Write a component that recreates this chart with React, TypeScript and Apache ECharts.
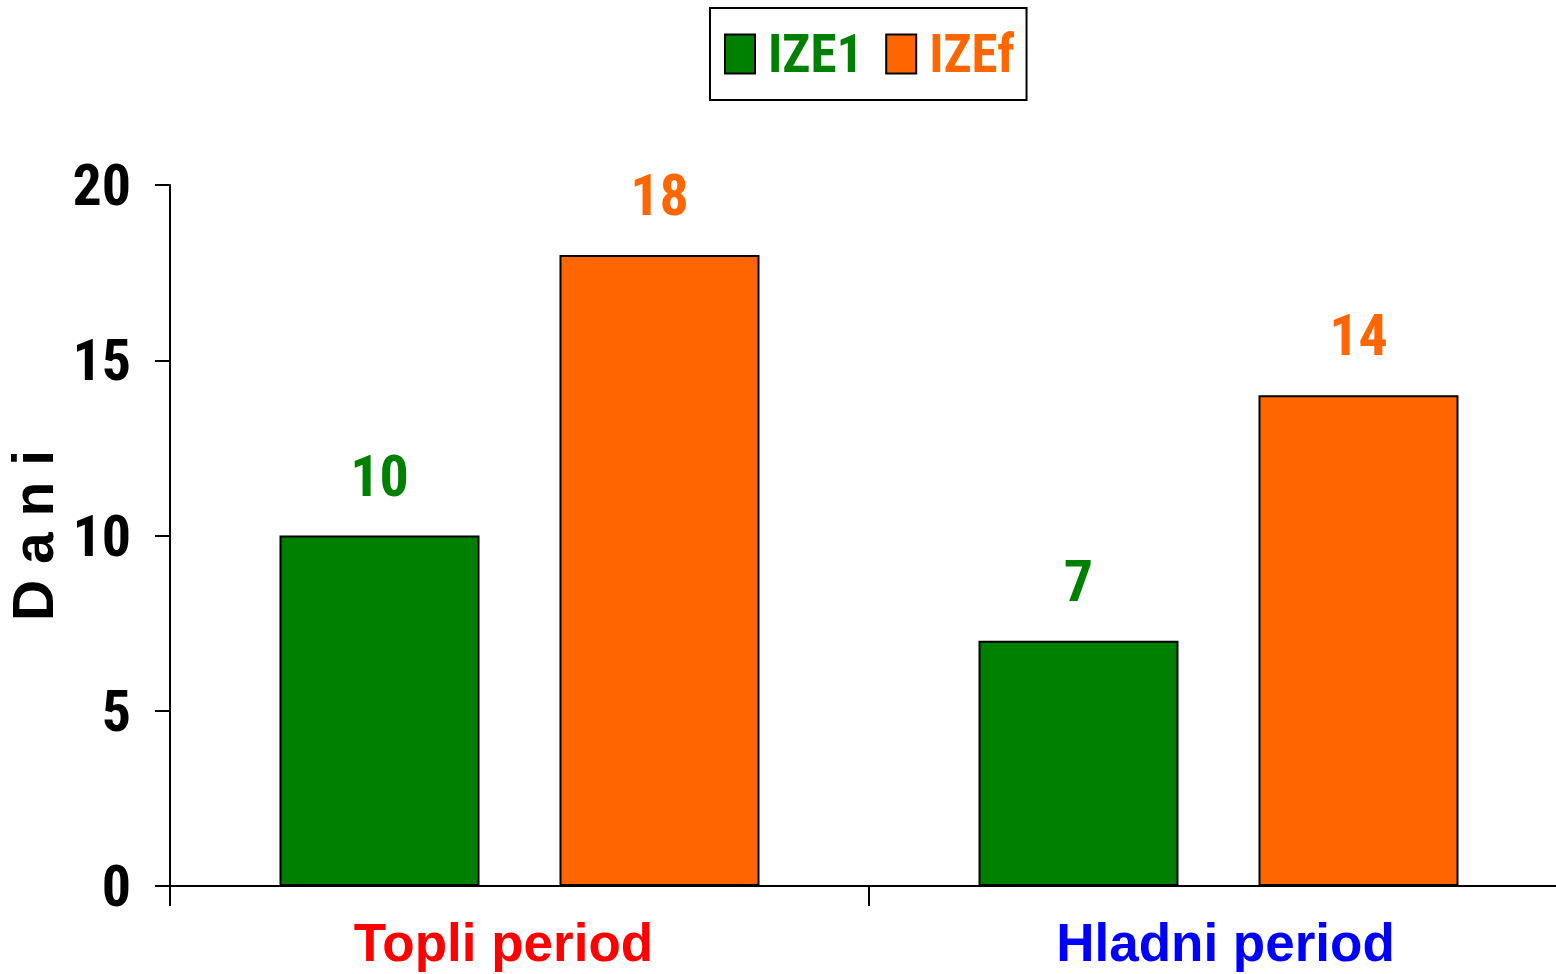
import React, { useEffect, useRef } from "react";
import * as echarts from "echarts";

const categories = ["Topli period", "Hladni period"];
const categoryColors = ["#FF0000", "#0000FF"];
const seriesNames = ["IZE1", "IZEf"];
const ize1Values = [10, 7];
const izefValues = [18, 14];
const seriesColors = ["#008000", "#FF6600"];
const yTicks = [0, 5, 10, 15, 20];

const NARROW = "'Roboto Condensed', 'Liberation Sans', sans-serif";
const WIDE = "'Liberation Sans', Arial, sans-serif";
const categoryLabelPadding = [
  [0, 32, 0, 0],
  [0, 0, 0, 14],
];

export default function App() {
  const ref = useRef<HTMLDivElement>(null);
  useEffect(() => {
    if (!ref.current) return;
    const chart = echarts.init(ref.current, undefined, { renderer: "svg" });
    const values = [ize1Values, izefValues];
    chart.setOption({
      animation: false,
      backgroundColor: "#ffffff",
      legend: {
        left: 710,
        top: 8,
        padding: [19, 12, 19, 14],
        borderColor: "#000",
        borderWidth: 2,
        itemWidth: 30,
        itemHeight: 39,
        itemGap: 22,
        icon: "rect",
        data: seriesNames.map((n, i) => ({
          name: n,
          textStyle: { color: seriesColors[i] },
        })),
        textStyle: {
          fontFamily: NARROW,
          fontWeight: "bold",
          fontSize: 53,
          lineHeight: 54,
          padding: [0, 0, 0, 8],
        },
      },
      grid: { left: 170, top: 185, width: 1398, height: 701, outerBoundsMode: "none" },
      xAxis: {
        type: "category",
        data: categories.map((c, i) => ({
          value: c,
          textStyle: { color: categoryColors[i], padding: categoryLabelPadding[i] },
        })),
        axisLine: { show: true, lineStyle: { color: "#000", width: 2 } },
        axisTick: { show: true, length: 20, lineStyle: { color: "#000", width: 2 } },
        axisLabel: {
          margin: 30,
          fontFamily: WIDE,
          fontWeight: "bold",
          fontSize: 53,
          lineHeight: 53,
        },
      },
      yAxis: {
        type: "value",
        min: 0,
        max: 20,
        interval: 5,
        name: "D a n i",
        nameLocation: "middle",
        nameRotate: 90,
        nameGap: 104,
        nameTextStyle: {
          fontFamily: WIDE,
          fontWeight: "bold",
          fontSize: 57,
          color: "#000",
        },
        splitLine: { show: false },
        axisLine: { show: true, lineStyle: { color: "#000", width: 2 } },
        axisTick: { show: true, length: 15, lineStyle: { color: "#000", width: 2 } },
        axisLabel: {
          margin: 39,
          fontFamily: NARROW,
          fontWeight: "bold",
          fontSize: 58,
          color: "#000",
          formatter: (v: number) => (yTicks.includes(v) ? String(v) : ""),
        },
      },
      series: seriesNames.map((n, i) => ({
        name: n,
        type: "bar",
        data: values[i],
        barWidth: 200,
        barGap: "40%",
        itemStyle: { color: seriesColors[i], borderColor: "#000", borderWidth: 2 },
        label: {
          show: true,
          position: "top",
          distance: 31,
          color: seriesColors[i],
          fontFamily: NARROW,
          fontWeight: "bold",
          fontSize: 58,
          lineHeight: 58,
        },
      })),
    });
    return () => chart.dispose();
  }, []);
  return (
    <div
      ref={ref}
      style={{ position: "fixed", left: 0, top: 0, width: 1556, height: 974, background: "#fff" }}
    />
  );
}
